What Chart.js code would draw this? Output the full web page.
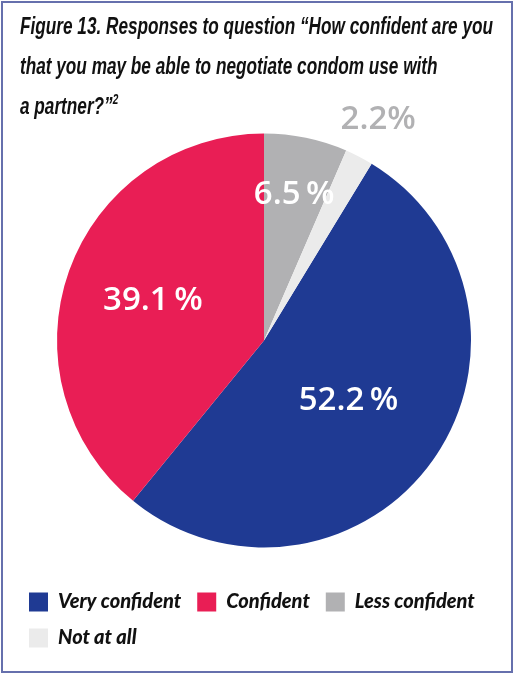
<!DOCTYPE html>
<html>
<head>
<meta charset="utf-8">
<title>Figure 13</title>
<script src="https://cdn.jsdelivr.net/npm/chart.js@4.4.1/dist/chart.umd.min.js"></script>
<style>
    html, body {
        margin: 0;
        padding: 0;
        background: #ffffff;
        overflow: hidden;
        width: 515px;
        height: 675px;
    }
    #frame {
        position: absolute;
        left: 1px;
        top: 1px;
        width: 508px;
        height: 668px;
        border: 2px solid #6670ad;
        z-index: 3;
        pointer-events: none;
    }
    #title {
        position: absolute;
        left: 20px;
        top: 6px;
        z-index: 2;
        font-family: "Liberation Sans", Arial, sans-serif;
        font-style: italic;
        font-weight: bold;
        font-size: 24px;
        line-height: 40px;
        color: #111111;
        white-space: nowrap;
        transform-origin: 0 0;
    }
    #title sup {
        font-size: 14px;
        line-height: 0;
        vertical-align: 10px;
    }
    #chartWrap {
        position: absolute;
        left: 0;
        top: 0;
        width: 528px;
        height: 675px;
        z-index: 1;
    }
</style>
</head>
<body>
<div id="frame"></div>
<div id="title"><span id="titleLine1">Figure 13. Responses to question “How confident are you</span><br>that you may be able to negotiate condom use with<br>a partner?”<sup>2</sup></div>
<div id="chartWrap"><canvas id="pieChart"></canvas></div>

<script>
// Chart data
const categories = ['Very confident', 'Confident', 'Less confident', 'Not at all'];
const shares = [52.2, 39.1, 6.5, 2.2];
const sliceColors = ['#1f3a93', '#e91e55', '#b1b1b3', '#ebebeb'];

// Label placement (fraction of radius) and colour per slice
const labelRadius = [0.5, 0.57, 0.72, 1.2];
const labelColors = ['#ffffff', '#ffffff', '#ffffff', '#b1b1b3'];

// Start the pie so that the small slices sit just right of 12 o'clock
const startRotation = (shares[2] + shares[3]) / 100 * 360;

// Condensed look for the title: squeeze the first line to the reference width
const titleEl = document.getElementById('title');
const lineWidth = document.getElementById('titleLine1').getBoundingClientRect().width;
titleEl.style.transform = `scaleX(${473 / lineWidth})`;

// Draw percentage labels on slices
const sliceLabels = {
    id: 'sliceLabels',
    afterDatasetsDraw(chart) {
        const ctx = chart.ctx;
        const meta = chart.getDatasetMeta(0);
        ctx.save();
        ctx.textAlign = 'center';
        ctx.textBaseline = 'middle';
        ctx.font = '600 33px "Open Sans", "Noto Sans", sans-serif';
        meta.data.forEach((arc, i) => {
            const p = arc.getProps(['x', 'y', 'startAngle', 'endAngle', 'outerRadius'], true);
            const mid = (p.startAngle + p.endAngle) / 2;
            const r = p.outerRadius * labelRadius[i];
            const x = p.x + Math.cos(mid) * r;
            const y = p.y + Math.sin(mid) * r;
            const value = shares[i].toFixed(1);
            const text = labelRadius[i] > 1 ? `${value}%` : `${value}\u2009%`;
            ctx.fillStyle = labelColors[i];
            ctx.fillText(text, x, y);
        });
        ctx.restore();
    }
};

const pieCtx = document.getElementById('pieChart').getContext('2d');

new Chart(pieCtx, {
    type: 'pie',
    data: {
        labels: categories,
        datasets: [{
            data: shares,
            backgroundColor: sliceColors,
            borderWidth: 0,
            radius: 207
        }]
    },
    options: {
        responsive: true,
        maintainAspectRatio: false,
        animation: false,
        rotation: startRotation,
        layout: {
            padding: { top: 105, left: 13, right: 13, bottom: 17 }
        },
        plugins: {
            tooltip: { enabled: false },
            legend: {
                position: 'bottom',
                align: 'start',
                labels: {
                    boxWidth: 19,
                    boxHeight: 19,
                    padding: 16,
                    color: '#111111',
                    font: {
                        family: 'Lato, "Liberation Sans", sans-serif',
                        style: 'italic',
                        weight: 900,
                        size: 20
                    }
                }
            }
        }
    },
    plugins: [sliceLabels]
});
</script>
</body>
</html>
